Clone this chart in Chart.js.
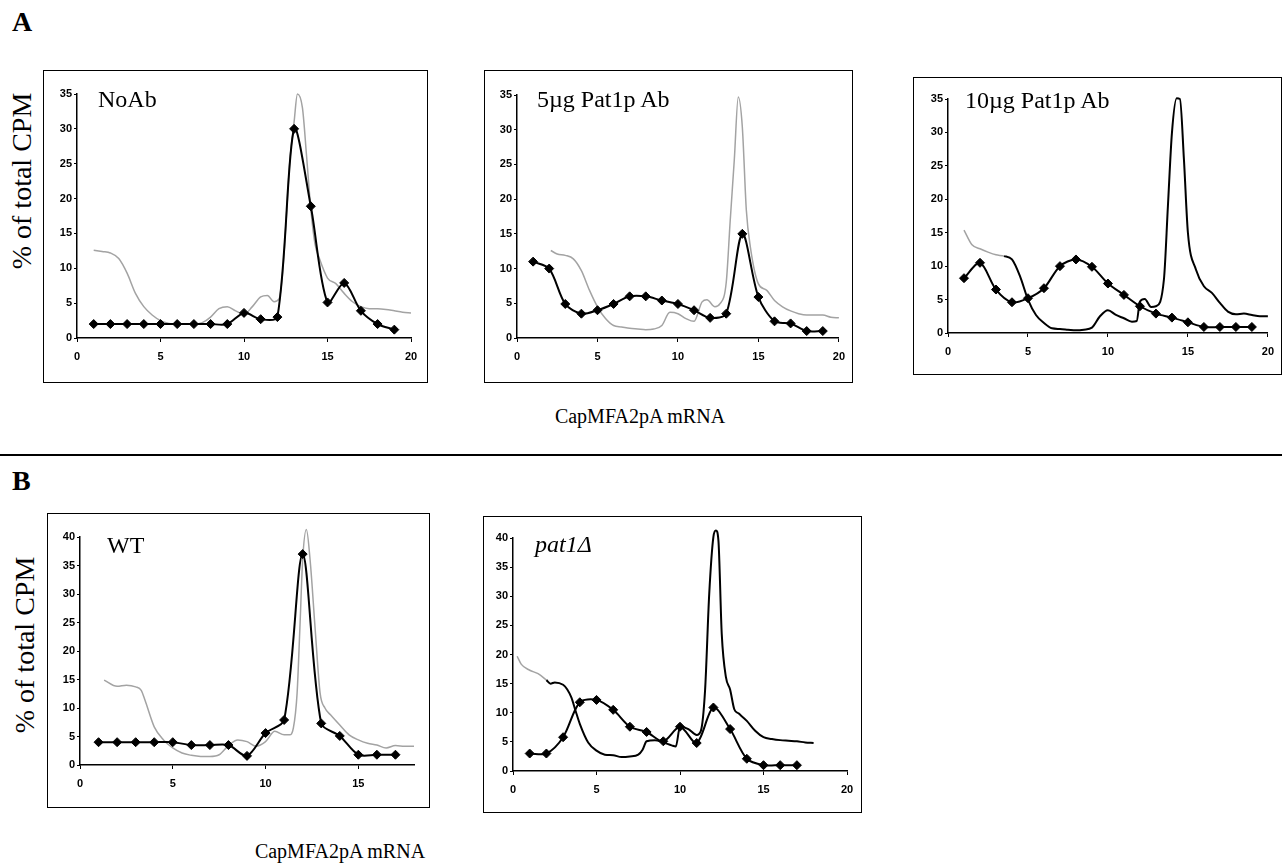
<!DOCTYPE html>
<html>
<head>
<meta charset="utf-8">
<script src="https://cdn.jsdelivr.net/npm/chart.js@4.4.1/dist/chart.umd.min.js"></script>
<style>
  body { margin: 0; width: 1282px; height: 867px; background: #fff; position: relative; overflow: hidden;
         font-family: "Liberation Serif", "Times New Roman", serif; color: #000; }
  canvas { position: absolute; }
  .box { position: absolute; border: 1px solid #000; box-sizing: border-box; pointer-events: none; }
  .txt { position: absolute; white-space: nowrap; line-height: 1; }
  .part { font-weight: bold; font-size: 28px; }
  .ytitle { font-size: 28px; transform: translate(-50%, -50%) rotate(-90deg); }
  .xtitle { font-size: 20px; transform: translateX(-50%); }
  .ptitle { font-size: 24px; }
  .rule { position: absolute; left: 0; width: 1282px; top: 454px; height: 2px; background: #000; }
</style>
</head>
<body>

<div class="txt part" style="left:12px; top:8px;">A</div>
<div class="txt part" style="left:12px; top:467px;">B</div>

<div class="txt ytitle" style="left:22px; top:181px;">% of total CPM</div>
<div class="txt ytitle" style="left:25px; top:645px;">% of total CPM</div>

<div class="txt xtitle" style="left:640px; top:406px;">CapMFA2pA mRNA</div>
<div class="txt xtitle" style="left:340px; top:841px;">CapMFA2pA mRNA</div>
<div class="rule"></div>

<canvas id="a1"></canvas>
<canvas id="a2"></canvas>
<canvas id="a3"></canvas>
<canvas id="b1"></canvas>
<canvas id="b2"></canvas>

<div class="txt ptitle" style="left:98px; top:87px;">NoAb</div>
<div class="txt ptitle" style="left:537px; top:87px;">5µg Pat1p Ab</div>
<div class="txt ptitle" style="left:965px; top:88px;">10µg Pat1p Ab</div>
<div class="txt ptitle" style="left:107px; top:533px;">WT</div>
<div class="txt ptitle" style="left:535px; top:532px;"><i>pat1Δ</i></div>

<script>
// gradient fractions
const fractionsA = [1, 2, 3, 4, 5, 6, 7, 8, 9, 10, 11, 12, 13, 14, 15, 16, 17, 18, 19];
const fractionsB = [1, 2, 3, 4, 5, 6, 7, 8, 9, 10, 11, 12, 13, 14, 15, 16, 17];

// A - NoAb
const noAbPoints = [2, 2, 2, 2, 2, 2, 2, 2, 2, 3.6, 2.7, 3.0, 30, 18.9, 5.1, 7.9, 3.9, 2.0, 1.2];
const noAbTraceX = [1, 1.5, 2, 2.5, 3, 3.5, 4, 4.5, 5, 5.5, 6, 7, 7.5, 8, 8.5, 9, 9.5, 10, 10.5, 11, 11.4, 11.8, 12.1,
  12.3, 12.5, 12.75, 13, 13.2, 13.5, 13.75, 14, 14.25, 14.5, 15, 15.5, 16, 16.5, 17, 17.5, 18, 18.5, 19, 19.5, 20];
const noAbTraceY = [12.6, 12.4, 12.2, 11.4, 9.3, 6.4, 4.5, 3.3, 2.5, 2.1, 2.0, 2.0, 2.2, 3.0, 4.2, 4.5, 3.9, 3.4, 4.5, 5.9, 6.1, 5.2, 5.6,
  9, 16, 25.5, 31, 35, 33, 26, 18.5, 13.5, 11.5, 8.6, 7.8, 6.4, 5.2, 4.5, 4.2, 4.2, 4.1, 3.9, 3.7, 3.6];

// A - 5ug Pat1p Ab
const ab5Points = [11, 10, 4.9, 3.5, 4, 4.9, 6, 6, 5.4, 4.9, 4, 2.9, 3.5, 15, 5.9, 2.4, 2.1, 1, 1];
const ab5TraceX = [2.1, 2.5, 3, 3.5, 4, 4.5, 5, 5.5, 6, 6.5, 7, 7.5, 8, 8.5, 9, 9.5, 10, 10.5, 11, 11.5, 11.8, 12.3, 12.6,
  13, 13.25, 13.5, 13.75, 14, 14.25, 14.5, 15, 15.5, 16, 16.5, 17, 17.5, 18, 18.5, 19, 19.5, 20];
const ab5TraceY = [12.6, 12.1, 11.9, 11.4, 9.7, 6.9, 4.5, 2.8, 1.8, 1.6, 1.4, 1.3, 1.2, 1.3, 1.8, 3.7, 3.5, 2.8, 2.4, 5.2, 5.5, 4.5, 4.9,
  8, 17, 25.6, 34.7, 30.4, 18.4, 13.1, 7.8, 6.9, 5.4, 4.5, 3.9, 3.5, 3.3, 3.3, 3.3, 3.0, 2.9];

// A - 10ug Pat1p Ab
const ab10Points = [8.2, 10.5, 6.5, 4.6, 5.2, 6.7, 10, 11, 9.9, 7.4, 5.7, 4, 2.9, 2.3, 1.6, 0.9, 0.9, 0.9, 0.9];
const ab10TraceX = [1, 1.5, 2, 2.5, 3, 3.5, 4, 4.5, 5, 5.5, 6, 6.5, 7, 7.5, 8, 8.5, 9, 9.5, 10, 10.5, 11, 11.5, 11.8, 12,
  12.3, 12.7, 13, 13.5, 13.75, 14, 14.3, 14.5, 14.75, 15, 15.5, 16, 16.5, 17, 17.5, 18, 18.5, 19, 19.5, 20];
const ab10TraceY = [15.4, 13.2, 12.6, 12.1, 11.7, 11.5, 11, 8.5, 5, 2.7, 1.5, 0.7, 0.6, 0.5, 0.4, 0.5, 0.8, 2.5, 3.4, 2.7, 2.2, 1.7, 1.8, 4.7,
  5.1, 3.9, 4.0, 8, 19, 29.9, 35.1, 35, 26, 15, 9.5, 7, 6, 4.5, 3.2, 2.8, 2.9, 2.7, 2.5, 2.5];

// B - WT
const wtPoints = [4, 4, 4, 4, 4, 3.5, 3.5, 3.5, 1.6, 5.6, 7.9, 37, 7.3, 5.1, 1.8, 1.8, 1.8];
const wtTraceX = [1.3, 2, 2.5, 3, 3.3, 3.5, 4, 4.5, 5, 5.5, 6, 6.5, 7, 7.5, 8, 8.5, 9, 9.5, 10, 10.5, 11, 11.3, 11.5, 11.7,
  11.85, 12, 12.2, 12.4, 12.67, 12.94, 13.2, 13.5, 14, 14.5, 15, 15.5, 16, 16.5, 17, 17.5, 18];
const wtTraceY = [14.9, 13.8, 14, 13.7, 13.1, 11.4, 6.7, 4.4, 3, 2.1, 1.7, 1.5, 1.5, 1.8, 3.4, 4.4, 4.1, 3.3, 4.1, 5.9, 5.3, 5.3, 6.5, 12.6,
  24, 36, 41.3, 36, 24, 12.6, 10, 8.8, 7, 5.3, 4.4, 3.8, 3.5, 3.0, 3.4, 3.3, 3.3];

// B - pat1 delta
const patPoints = [3, 3, 5.8, 11.8, 12.2, 10.5, 7.6, 6.7, 5.1, 7.6, 4.8, 10.9, 7.2, 2.1, 1, 1, 1];
const patTraceX = [0.25, 0.5, 1, 1.5, 2, 2.25, 2.5, 3, 3.25, 3.5, 3.75, 4, 4.5, 5, 5.5, 6, 6.5, 7, 7.5, 7.75, 8, 8.5, 9, 9.5,
  9.75, 10, 10.5, 11, 11.25, 11.5, 11.75, 12, 12.15, 12.3, 12.5, 12.75, 13, 13.25, 13.5, 14, 14.5, 15, 15.5, 16, 16.5, 17, 17.5, 18];
const patTraceY = [19.7, 18.3, 17.3, 16.7, 15.6, 15, 15.2, 14.8, 14, 12.6, 10.3, 8.1, 4.9, 3.5, 2.8, 2.7, 2.4, 2.5, 2.8, 3.6, 5.1, 5.3, 4.9, 4.4,
  4.2, 7.6, 7.2, 6.2, 6.9, 13.8, 30.4, 40.2, 41.3, 39.6, 23.5, 16.1, 14, 10.6, 9.9, 8.6, 6.9, 5.8, 5.5, 5.3, 5.2, 5.1, 4.9, 4.8];

const GRAY = '#a3a3a3';
const tickFont = { family: '"Liberation Sans", Arial, sans-serif', size: 11, weight: 'bold' };

function pairs(xs, ys) {
  return xs.map((x, i) => ({ x: x, y: ys[i] }));
}

function createPanel(id, box, pad, xMax, yMax, fractions, points, traceX, traceY, grayUntil) {
  const canvas = document.getElementById(id);
  canvas.width = box.w;
  canvas.height = box.h;
  canvas.style.left = box.x + 'px';
  canvas.style.top = box.y + 'px';

  const frame = document.createElement('div');
  frame.className = 'box';
  frame.style.left = box.x + 'px';
  frame.style.top = box.y + 'px';
  frame.style.width = box.w + 'px';
  frame.style.height = box.h + 'px';
  document.body.appendChild(frame);

  return new Chart(canvas.getContext('2d'), {
    type: 'line',
    data: {
      datasets: [
        {
          data: pairs(fractions, points),
          borderColor: '#000',
          backgroundColor: '#000',
          borderWidth: 2,
          pointStyle: 'rectRot',
          pointRadius: 4.5,
          pointBorderWidth: 1,
          tension: 0.3,
          clip: false
        },
        {
          data: pairs(traceX, traceY),
          borderColor: grayUntil === null ? GRAY : '#000',
          borderWidth: grayUntil === null ? 1.5 : 2,
          pointRadius: 0,
          cubicInterpolationMode: 'monotone',
          clip: false,
          segment: {
            borderColor: ctx => (grayUntil === null || ctx.p0DataIndex < grayUntil) ? GRAY : '#000',
            borderWidth: ctx => (grayUntil === null || ctx.p0DataIndex < grayUntil) ? 1.5 : 2
          }
        }
      ]
    },
    options: {
      responsive: false,
      animation: false,
      devicePixelRatio: 1,
      layout: { padding: { left: 0, top: pad.top, right: pad.right, bottom: 0 } },
      plugins: { legend: { display: false }, tooltip: { enabled: false } },
      scales: {
        x: {
          type: 'linear',
          min: 0,
          max: xMax,
          afterFit: s => { s.height = pad.bottom; },
          border: { color: '#000', width: 1.5 },
          grid: { drawOnChartArea: false, drawTicks: true, tickLength: 4, color: '#000' },
          ticks: { stepSize: 5, includeBounds: false, color: '#000', font: tickFont, padding: 8, maxRotation: 0 }
        },
        y: {
          min: 0,
          max: yMax,
          afterFit: s => { s.width = pad.left; },
          border: { color: '#000', width: 1.5 },
          grid: { drawOnChartArea: false, drawTicks: true, tickLength: 3, color: '#000' },
          ticks: { stepSize: 5, color: '#000', font: tickFont, padding: 2 }
        }
      }
    }
  });
}

createPanel('a1', { x: 43, y: 70, w: 385, h: 313 }, { left: 34, top: 24, right: 17, bottom: 45 },
  20, 35, fractionsA, noAbPoints, noAbTraceX, noAbTraceY, null);
createPanel('a2', { x: 484, y: 70, w: 369, h: 313 }, { left: 33, top: 25, right: 9, bottom: 45 },
  20, 35, fractionsA, ab5Points, ab5TraceX, ab5TraceY, null);
createPanel('a3', { x: 913, y: 77, w: 369, h: 298 }, { left: 35, top: 22, right: 9, bottom: 42 },
  20, 35, fractionsA, ab10Points, ab10TraceX, ab10TraceY, 5);
createPanel('b1', { x: 47, y: 513, w: 383, h: 295 }, { left: 33, top: 24, right: 16, bottom: 43 },
  18, 40, fractionsB, wtPoints, wtTraceX, wtTraceY, null);
createPanel('b2', { x: 483, y: 516, w: 379, h: 297 }, { left: 30, top: 22, right: 15, bottom: 42 },
  20, 40, fractionsB, patPoints, patTraceX, patTraceY, 4);
</script>
</body>
</html>
